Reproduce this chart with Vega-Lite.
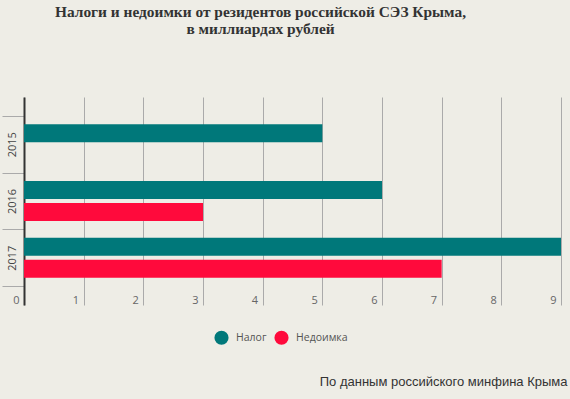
{
  "$schema": "https://vega.github.io/schema/vega-lite/v6.json",
  "width": 537,
  "height": 208,
  "autosize": {"type": "none"},
  "padding": {"left": 24, "top": 97, "right": 9, "bottom": 94},
  "background": "#eeede6",
  "title": {
    "text": ["Налоги и недоимки от резидентов российской СЭЗ Крыма,", "в миллиардах рублей"],
    "font": "Liberation Serif",
    "fontSize": 15.4,
    "fontWeight": "bold",
    "color": "#333333",
    "lineHeight": 17,
    "anchor": "middle",
    "dx": -32,
    "offset": 60
  },
  "data": {
    "values": [
      {"year": "2015", "type": "Налог", "value": 5},
      {"year": "2016", "type": "Налог", "value": 6},
      {"year": "2016", "type": "Недоимка", "value": 3},
      {"year": "2017", "type": "Налог", "value": 9},
      {"year": "2017", "type": "Недоимка", "value": 7}
    ]
  },
  "mark": {"type": "bar"},
  "encoding": {
    "y": {
      "field": "year",
      "type": "nominal",
      "scale": {"paddingInner": 0, "paddingOuter": 0.333},
      "axis": {
        "title": null,
        "domainColor": "#333333",
        "domainWidth": 2,
        "tickBand": "extent",
        "tickSize": 22,
        "tickColor": "#aaaaaa",
        "tickWidth": 1,
        "labelAngle": 270,
        "labelAlign": "center",
        "labelBaseline": "middle",
        "labelPadding": -10,
        "labelFont": "Open Sans",
        "labelFontSize": 11,
        "labelColor": "#444444",
        "grid": false
      }
    },
    "yOffset": {
      "field": "type",
      "scale": {"domain": ["Налог", "Недоимка"], "paddingInner": 0.182, "paddingOuter": 0.386}
    },
    "x": {
      "field": "value",
      "type": "quantitative",
      "scale": {"domain": [0, 9], "nice": false},
      "axis": {
        "title": "По данным российского минфина Крыма",
        "values": [0, 1, 2, 3, 4, 5, 6, 7, 8, 9],
        "grid": true,
        "gridColor": "#aaaaaa",
        "gridWidth": 1,
        "domain": false,
        "ticks": false,
        "labelAlign": "right",
        "labelOffset": -5,
        "labelPadding": -2,
        "labelBaseline": "alphabetic",
        "labelFlush": false,
        "labelFont": "Open Sans",
        "labelFontSize": 11,
        "labelColor": "#666666",
        "titleFont": "Liberation Sans",
        "titleFontSize": 13,
        "titleFontWeight": "normal",
        "titleColor": "#333333",
        "titleAnchor": "end",
        "titleAlign": "right",
        "titleX": 543,
        "titleY": 80,
        "titleBaseline": "alphabetic"
      }
    },
    "color": {
      "field": "type",
      "type": "nominal",
      "scale": {"domain": ["Налог", "Недоимка"], "range": ["#00787a", "#ff0a3c"]},
      "legend": {
        "title": null,
        "orient": "none",
        "legendX": 190,
        "legendY": 233,
        "direction": "horizontal",
        "symbolType": "circle",
        "symbolSize": 200,
        "symbolStrokeWidth": 0,
        "labelFont": "Open Sans",
        "labelFontSize": 10.5,
        "labelColor": "#555555",
        "columnPadding": 7,
        "labelOffset": 7,
        "padding": 0
      }
    }
  },
  "config": {"view": {"stroke": null}}
}
